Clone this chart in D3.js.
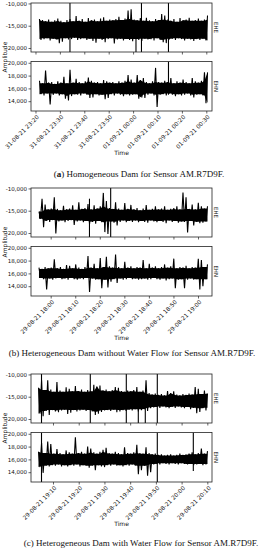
<!DOCTYPE html>
<meta charset="utf-8">
<style>
  body { margin: 0; background: #fff; }
  text { font-family: "DejaVu Sans", sans-serif; fill: #111; }
  .caption { font-family: "Liberation Serif", serif; font-size: 9px; }
</style>
<svg width="264" height="550"></svg>
<script src="https://cdn.jsdelivr.net/npm/d3@7"></script>
<script>
// channels (rows of each figure) and their y limits / ticks
var channels = ["EHE", "EHN"];
var eheRange = [-20900, -9900], ehnRange = [12470, 20200];
var eheTicks = [-10000, -15000, -20000], ehnTicks = [14000, 16000, 18000, 20000];

var captionLetters = ["a", "b", "c"];
var captionTexts = [
  " Homogeneous Dam for Sensor AM.R7D9F.",
  " Heterogeneous Dam without Water Flow for Sensor AM.R7D9F.",
  " Heterogeneous Dam with Water Flow for Sensor AM.R7D9F."
];

// (a) record span, visible span, envelope (max/min per sample)
var aStart = "2021-08-31 23:21:38", aEnd = "2021-09-01 00:30:30";
var aView = ["2021-08-31 23:18:10", "2021-09-01 00:32:20"];
var aEheHi = [-13500,-13700,-14000,-13600,-14100,-13800,-13400,-13900,-14200,-13700,
  -13500,-14000,-12800,-13900,-13500,-14100,-13300,-13800,-13600,-14000,
  -13400,-13100,-13900,-13600,-13800,-13500,-13000,-13700,-13400,-11600,
  -11300,-13600,-13800,-13300,-13900,-13200,-13800,-14000,-13500,-13700,
  -12400,-12700,-13600,-13900,-13500,-14100,-13300,-13800,-13600,-13200,
  -13900,-13700,-13400,-13900,-13600,-12700];
var aEheLo = [-18200,-18000,-17800,-18300,-17900,-18100,-18900,-18600,-17800,-18100,
  -18000,-17700,-18200,-18000,-17800,-18200,-17900,-18400,-18800,-17900,
  -18200,-18700,-18000,-17800,-19000,-18100,-17900,-18300,-18000,-18200,
  -18500,-18000,-18200,-18400,-17900,-18100,-18000,-18300,-17800,-18200,
  -18700,-18900,-18100,-17900,-18200,-17800,-18000,-18300,-17900,-18100,
  -18400,-18000,-18200,-17900,-18300,-18800];
var aEhnHi = [17200,16800,18800,16900,17000,16700,17100,16900,17800,16800,
  18900,16900,17500,17000,16800,17100,17700,17200,16900,17000,
  16800,17300,17100,16900,17000,16800,17100,16900,17200,18100,
  17400,16900,18100,17300,17600,17000,16800,17100,19200,17000,
  16900,17200,17000,17600,16800,17100,16900,17400,17000,16800,
  17600,17100,16900,17200,18500,18500];
var aEhnLo = [15100,14900,15200,13500,15000,15200,14900,15100,14400,14100,
  14800,15100,15000,14900,15200,15000,14500,14600,15100,14900,
  15000,14300,14500,15100,14900,15200,15000,14800,15100,14900,
  15000,15100,14400,14600,14500,15000,15200,14900,13100,15000,
  15100,14900,15200,15000,14800,15100,14900,15000,15200,14900,
  14600,15000,15100,14900,13700,13700];
var aSpikeTime = ["2021-08-31 23:34:08", "2021-09-01 00:01:11", "2021-09-01 00:03:26", "2021-09-01 00:14:30", "2021-09-01 00:14:30"];
var aSpikeChannel = ["EHE", "EHE", "EHE", "EHE", "EHN"];
var aSpikeHi = [-9900, -16000, -9900, -9900, 20200];
var aSpikeLo = [-20900, -20900, -20900, -20900, 15000];

// (b)
var bStart = "2021-08-29 17:55:14", bEnd = "2021-08-29 19:03:52";
var bView = ["2021-08-29 17:51:59", "2021-08-29 19:05:42"];
var bEheHi = [-15200,-12300,-13600,-14700,-14500,-12000,-14600,-14900,-13900,-14700,
  -14500,-13800,-14800,-13100,-14600,-14400,-13500,-14700,-13800,-14500,
  -14000,-11000,-12800,-14400,-14600,-13100,-14500,-14800,-13300,-14600,
  -13700,-14700,-14400,-14900,-14500,-13700,-14800,-14600,-14000,-14700,
  -14500,-14000,-14800,-14600,-14400,-14000,-14700,-10900,-12000,-14600,
  -13600,-14700,-13200,-14000,-14500,-14000];
var bEheLo = [-16800,-18700,-17300,-17500,-17100,-20100,-17400,-17200,-17600,-17300,
  -17100,-18200,-17400,-17200,-17600,-17300,-18000,-17500,-17900,-17300,
  -17600,-19800,-20200,-17400,-17700,-18300,-17500,-17200,-17600,-17300,
  -17500,-17200,-17600,-17300,-17500,-17700,-17200,-17400,-17600,-17300,
  -17500,-17800,-17200,-17500,-17300,-17700,-17400,-17500,-19900,-17300,
  -18300,-17500,-17800,-17700,-17400,-17600];
var bEhnHi = [16900,16700,17000,16800,16900,18200,16800,17000,16700,17300,
  17200,16800,17400,16900,16700,17000,18700,16900,17500,16800,
  18400,17000,18600,17100,16900,18950,17000,16800,17800,16900,
  17100,16800,17000,16900,18100,16800,17500,16900,17100,16800,
  17000,17400,16900,17100,18300,16800,17000,16900,17200,16800,
  17000,16900,18300,18100,17000,17400];
var bEhnLo = [15300,15100,13500,15200,15000,15200,15300,15100,15200,15000,
  15300,15100,15000,15200,15100,15300,13100,15200,15000,15100,
  13700,15000,13800,14700,15100,14500,15200,15000,15100,15300,
  15100,15200,15000,15100,15200,15000,15100,15300,15100,15000,
  15200,14900,15100,15200,13700,15000,15100,13700,15000,15200,
  15000,15100,13500,14000,15100,15000];
var bSpikeTime = ["2021-08-29 18:15:48", "2021-08-29 18:24:26"];
var bSpikeChannel = ["EHE", "EHE"];
var bSpikeHi = [-12300, -9900];
var bSpikeLo = [-20900, -20900];

// (c)
var cStart = "2021-08-29 19:04:22", cEnd = "2021-08-29 20:10:04";
var cView = ["2021-08-29 19:01:27", "2021-08-29 20:11:49"];
var cEheHi = [-13000,-11300,-13500,-11300,-13400,-13900,-11700,-13600,-13900,-12900,
  -13200,-13800,-12600,-13700,-13400,-13900,-13500,-13800,-12300,-12700,
  -12500,-13600,-13400,-13800,-13500,-12800,-13000,-13700,-13900,-13600,
  -13800,-13500,-12800,-13900,-13600,-11300,-14200,-14500,-14300,-14600,
  -14400,-14700,-13700,-14200,-13800,-14500,-14700,-14400,-14600,-14300,
  -14500,-12800,-13200,-14400,-13600,-14300];
var cEheLo = [-18800,-19400,-18200,-19100,-18000,-18300,-18500,-18100,-17900,-18900,
  -18600,-18000,-18300,-18100,-17900,-18200,-18000,-18300,-19100,-18800,
  -18400,-18100,-18000,-18200,-17900,-18500,-18300,-18000,-18200,-17900,
  -18100,-17800,-18300,-18000,-17800,-18200,-17600,-17400,-17300,-17500,
  -17200,-17400,-17600,-17300,-17500,-17200,-17400,-17600,-17300,-17800,
  -17500,-18700,-18400,-17600,-18100,-17500];
var cEhnHi = [17200,18570,17000,18800,18400,16900,17600,17000,16800,17400,
  17100,16900,19450,17000,17200,16900,18000,17700,17100,16900,
  17200,17500,17800,17000,16900,17200,17000,16800,17900,17000,
  16900,17100,18300,17000,16900,17900,17000,16800,16900,16700,
  16800,16600,16700,16800,16600,16700,16900,16700,16800,16900,
  17100,16800,17000,17700,16900,17300];
var cEhnLo = [14800,13900,15000,14900,15100,15000,15200,14900,15100,14900,
  15100,15000,15200,14900,15100,15000,14700,15000,14300,15100,
  14900,14800,15100,15000,15200,15000,15100,14900,15100,15000,
  15200,15000,13700,14300,15000,13450,14000,15200,15300,15200,
  15400,15300,15200,15400,15300,15200,15400,15300,15200,15300,
  15100,15200,15300,15100,15200,15300];
var cSpikeTime = ["2021-08-29 19:05:32", "2021-08-29 19:05:32", "2021-08-29 19:24:30", "2021-08-29 19:38:30",
  "2021-08-29 19:43:10", "2021-08-29 19:45:53", "2021-08-29 19:50:33", "2021-08-29 19:50:33", "2021-08-29 20:04:33"];
var cSpikeChannel = ["EHE", "EHN", "EHE", "EHE", "EHE", "EHE", "EHE", "EHN", "EHN"];
var cSpikeHi = [-9900, 20200, -9900, -9900, -16000, -15500, -9900, 20200, 20200];
var cSpikeLo = [-20900, 12470, -20900, -20900, -20900, -20900, -20900, 12470, 14200];

var parse = d3.timeParse("%Y-%m-%d %H:%M:%S");
var fmtTime = d3.timeFormat("%d-%m-%y %H:%M");
var fmtNum = d3.formatLocale({decimal: ".", thousands: ",", grouping: [3], currency: ["", ""], minus: "-"}).format(",");

var svg = d3.select("svg");
var left = 31, right = 212, topH = 49, gap = 9.5, botH = 49.5;
var ranges = [eheRange, ehnRange], ticks = [eheTicks, ehnTicks];

var panels = [
  {top: 3, start: aStart, end: aEnd, view: aView, hi: [aEheHi, aEhnHi], lo: [aEheLo, aEhnLo],
   st: aSpikeTime, sc: aSpikeChannel, sh: aSpikeHi, sl: aSpikeLo, capX: 139, capY: 177},
  {top: 188, start: bStart, end: bEnd, view: bView, hi: [bEheHi, bEhnHi], lo: [bEheLo, bEhnLo],
   st: bSpikeTime, sc: bSpikeChannel, sh: bSpikeHi, sl: bSpikeLo, capX: 132, capY: 356},
  {top: 374, start: cStart, end: cEnd, view: cView, hi: [cEheHi, cEhnHi], lo: [cEheLo, cEhnLo],
   st: cSpikeTime, sc: cSpikeChannel, sh: cSpikeHi, sl: cSpikeLo, capX: 141, capY: 546}
];

panels.forEach(function(p, pi) {
  var x = d3.scaleTime().domain(p.view.map(parse)).range([left, right]);
  var t0 = parse(p.start), t1 = parse(p.end);

  channels.forEach(function(ch, ci) {
    var y0 = p.top + (ci === 0 ? 0 : topH + gap);
    var h = ci === 0 ? topH : botH;
    var y = d3.scaleLinear().domain(ranges[ci]).range([h, 0]);
    var g = svg.append("g").attr("transform", "translate(0," + y0 + ")");
    var id = "clip" + pi + ci;
    g.append("clipPath").attr("id", id).append("rect")
      .attr("x", left).attr("y", 0).attr("width", right - left).attr("height", h);

    var hi = p.hi[ci], lo = p.lo[ci], n = hi.length, dt = (t1 - t0) / (n - 1);
    var samples = hi.map(function(v, i) {
      return {t: new Date(+t0 + dt * i), hi: v, lo: lo[i],
        // solid core: what the neighbouring samples all cover
        coreHi: d3.min(hi.slice(Math.max(0, i - 1), i + 2)),
        coreLo: d3.max(lo.slice(Math.max(0, i - 1), i + 2))};
    });
    var plot = g.append("g").attr("clip-path", "url(#" + id + ")");

    plot.append("path").datum(samples)
      .attr("d", d3.area()
        .x(function(d) { return x(d.t); })
        .y0(function(d) { return y(d.coreLo); })
        .y1(function(d) { return y(d.coreHi); }))
      .attr("fill", "#000");

    // waveform swinging between the max and min of each sample
    var trace = [];
    samples.forEach(function(d) {
      trace.push({t: d.t, v: d.hi});
      trace.push({t: new Date(+d.t + dt / 2), v: d.lo});
    });
    trace.pop();
    plot.append("path").datum(trace)
      .attr("d", d3.line().x(function(d) { return x(d.t); }).y(function(d) { return y(d.v); }))
      .attr("fill", "none").attr("stroke", "#000").attr("stroke-width", 1.1).attr("stroke-linejoin", "miter");

    // isolated tall spikes
    p.st.forEach(function(s, si) {
      if (p.sc[si] !== ch) return;
      var sx = x(parse(s));
      plot.append("line").attr("x1", sx).attr("x2", sx)
        .attr("y1", y(p.sh[si])).attr("y2", y(p.sl[si]))
        .attr("stroke", "#000").attr("stroke-width", 1.1);
    });

    g.append("rect").attr("x", left).attr("y", 0).attr("width", right - left).attr("height", h)
      .attr("fill", "none").attr("stroke", "#222").attr("stroke-width", 0.8);

    var ya = g.append("g").attr("transform", "translate(" + left + ",0)")
      .call(d3.axisLeft(y).tickValues(ticks[ci]).tickSize(2.5).tickPadding(1.5).tickFormat(fmtNum));
    ya.select(".domain").remove();
    ya.selectAll("line").attr("stroke", "#222").attr("stroke-width", 0.7);
    ya.selectAll("text").attr("font-size", "5.5px").attr("font-family", "DejaVu Sans").attr("fill", "#111");

    var xa = g.append("g").attr("transform", "translate(0," + h + ")")
      .call(d3.axisBottom(x).ticks(d3.timeMinute.every(10)).tickSize(2.5)
        .tickFormat(ci === 1 ? fmtTime : function() { return ""; }));
    xa.select(".domain").remove();
    xa.selectAll("line").attr("stroke", "#222").attr("stroke-width", 0.7);
    if (ci === 1) {
      xa.selectAll("text")
        .attr("font-size", "5.8px").attr("font-family", "DejaVu Sans").attr("fill", "#111")
        .attr("text-anchor", "end").attr("x", 0).attr("y", 0).attr("dy", "0.35em")
        .attr("transform", "translate(2,5) rotate(-45)");
    }

    g.append("text").attr("transform", "translate(" + (right + 4) + "," + (h / 2) + ") rotate(90)")
      .attr("text-anchor", "middle").attr("dy", "0.35em").attr("font-size", "5.5px").attr("fill", "#111").text(ch);
  });

  svg.append("text").attr("x", (left + right) / 2).attr("y", p.top + 152)
    .attr("text-anchor", "middle").attr("font-size", "6px").text("Time");

  svg.append("text").attr("transform", "translate(5," + (p.top + (topH + gap + botH) / 2) + ") rotate(-90)")
    .attr("text-anchor", "middle").attr("dy", "0.35em").attr("font-size", "6px").text("Amplitude");

  var cap = svg.append("text").attr("class", "caption").attr("x", p.capX).attr("y", p.capY)
    .attr("text-anchor", "middle");
  cap.append("tspan").text("(");
  cap.append("tspan").attr("font-weight", pi === 0 ? "bold" : "normal").text(captionLetters[pi]);
  cap.append("tspan").text(")" + captionTexts[pi]);
});
</script>
